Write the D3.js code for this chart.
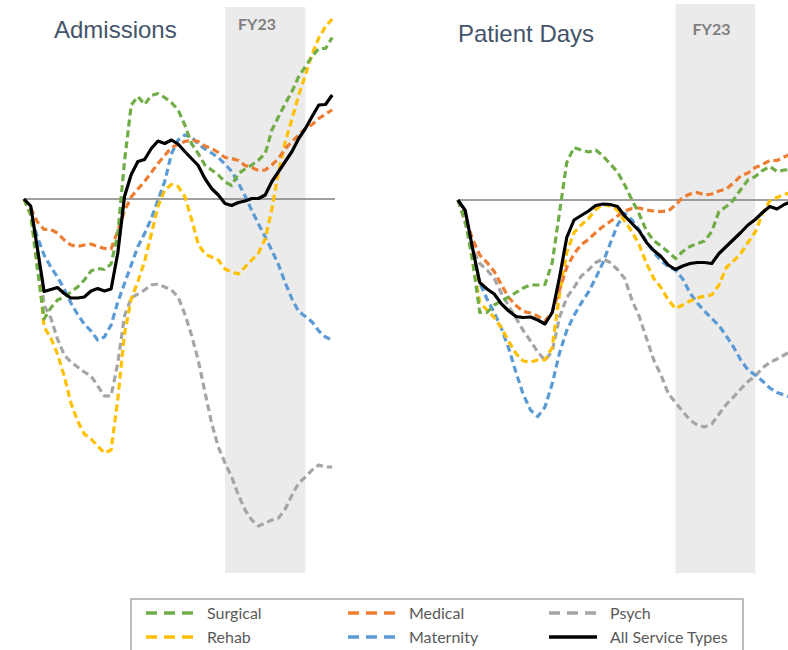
<!DOCTYPE html>
<meta charset="utf-8">
<style>
body { margin: 0; background: #fff; }
svg { display: block; }
.title { font: 24px "Liberation Sans", Arial, sans-serif; fill: #44546a; }
.fy { font: bold 16px Lato, sans-serif; fill: #7f7f7f; }
.legend text { font: 16px Lato, sans-serif; fill: #595959; }
</style>
<body>
<script src="https://cdn.jsdelivr.net/npm/d3@7"></script>
<script>

// monthly % change vs baseline, Jan 2020 .. Nov 2023 (index 0..46)
const admSurgical = [0,-3,-14,-24,-21.8,-20.2,-19.6,-18.6,-17.6,-16.2,-14.4,-13.9,-14.1,-13,-7,7.5,18.8,20.5,18.9,20.7,21.1,20.3,19.3,17.8,14.8,11.1,9.1,6.8,5.8,4.8,3.4,2.7,5.1,6,6.8,7.8,9.1,13.8,16.5,19.1,21.5,24.5,26.5,28.5,30.1,30.1,32.3];
const admMedical = [0,-1.8,-4.6,-6.1,-6.1,-6.8,-8.2,-9.2,-9.5,-9.2,-9,-9.5,-9.9,-10,-6.4,-2.4,0.4,2,3.5,5.3,7.1,8.7,10.3,10.9,11.5,11.8,11.5,10.6,10.1,9.3,8.3,8.1,7.7,6.7,6.3,5.7,5.8,6.8,8.1,10.1,11.5,12.8,14.1,14.9,16.1,17,17.8];
const admPsych = [0,-2,-10,-21.2,-23.8,-28,-31.2,-32.6,-33.6,-34.6,-35.4,-37.4,-39.4,-39.4,-32.8,-23.4,-19.8,-19,-18.2,-17.2,-17,-17.6,-18.2,-19.6,-23,-27.2,-32.2,-38.6,-44.8,-49.6,-52.8,-55.6,-59.2,-62.2,-64.2,-65.4,-64.8,-64.2,-63.8,-62,-59.2,-56.8,-55.6,-54.2,-53.2,-53.6,-53.6];
const admRehab = [0,-3.2,-11.8,-25.6,-27.8,-31,-35.4,-40.8,-44.4,-47,-48,-49.4,-50.8,-50.2,-40,-27,-20,-16.5,-12.5,-7,-1.5,1.8,2.9,2.5,0.5,-4,-9,-11,-11.6,-12.2,-14,-14.6,-15,-13.6,-12.2,-10.8,-8,-2,5.5,11.5,16,20.8,24.8,29,32.2,34.5,36];
const admMaternity = [0,-3.2,-7.6,-11.2,-13.6,-15.6,-18,-20.8,-23.1,-25,-26.4,-28.2,-27.6,-25.2,-20.6,-16.9,-13.2,-9.5,-6.9,-3.9,-0.2,3.5,9,11.8,12.8,12.4,11,10,9.2,8.3,7,5.5,3.2,0.6,-2.3,-5,-7.6,-10.3,-13.2,-16.8,-20,-22.5,-23.5,-24.6,-26.4,-27.6,-28.2];
const admAll = [0,-1.4,-9.9,-18.5,-18.1,-17.7,-18.9,-19.8,-19.8,-19.6,-18.4,-17.9,-18.4,-18,-10.8,0.5,4.9,7.5,7.9,10.1,11.6,11.1,11.8,11,9.5,8.1,6.7,4.1,2.1,0.8,-0.9,-1.3,-0.7,-0.4,0.1,0.1,0.8,3.5,5.5,7.5,9.5,12.1,14.1,16.5,18.8,18.9,20.8];

const pdSurgical = [0,-4,-12,-22.5,-22.5,-21,-20.2,-19.4,-18.5,-17.6,-17,-17,-16.9,-12.5,-2.5,7.5,10.5,10,9.6,10,8.8,7.2,5.6,3,0,-2.8,-6.2,-8.1,-9.2,-10.4,-11.7,-10.3,-9.3,-8.7,-8.2,-6.3,-2.3,-1.3,0,2.1,4,4.7,5.9,6.7,5.7,6,6.1];
const pdMedical = [0,-3.5,-7.8,-11,-12.5,-14.3,-17,-19.5,-21.1,-22.3,-22.6,-23.2,-24.2,-22.4,-18,-13.5,-10.8,-8.9,-7.9,-6.5,-5.3,-4.3,-3.2,-2.2,-1.7,-1.6,-2,-2.2,-2.3,-2.2,-1,0.5,1.2,1.5,1,1.2,1.8,2.2,3.4,4.8,5.4,6.5,7.1,7.9,7.9,8.6,9.3];
const pdPsych = [0,-4.7,-9.7,-12.7,-14,-15.7,-18.7,-21.2,-23.6,-26.1,-28.2,-30.4,-32.1,-30.2,-23.5,-19.5,-17.5,-15.2,-14,-12.5,-11.8,-12.5,-13.9,-15.7,-20,-23.3,-27.7,-32,-35,-38.7,-40.5,-42.3,-44,-45,-45.4,-44.8,-42.8,-40.9,-39.4,-37.8,-36.3,-35.2,-33.6,-32.5,-31.8,-31,-30.2];
const pdRehab = [0,-3.5,-12,-20.5,-22,-23.5,-25.6,-28.3,-30.7,-32.2,-32.4,-32,-32,-29.5,-18.8,-10.5,-6.5,-5,-3.7,-1.9,-0.9,-1.2,-2,-4.3,-6.3,-9,-12.7,-15.7,-17.5,-20,-21.7,-21,-20.2,-19.6,-19.2,-19,-17,-13.5,-12.2,-10.7,-8.5,-6.4,-2.7,-0.2,0.5,1.1,1.5];
const pdMaternity = [0,-3.7,-11.7,-16.6,-19.8,-22.5,-25.7,-29.7,-34.5,-38.9,-42,-43.3,-41.4,-36.7,-30.6,-26.1,-23.1,-20.6,-18.4,-15.6,-12.5,-8.7,-5,-2.7,-4,-6,-8.3,-10.5,-12.1,-13.3,-14,-15.8,-18.6,-20.6,-22.2,-23.7,-25.1,-27.2,-29.4,-32,-34,-35,-36.2,-37.6,-38.5,-39,-39.5];
const pdAll = [0,-2.1,-9.6,-16.5,-17.8,-18.8,-20.8,-22.2,-23.3,-23.5,-23.4,-24,-24.8,-22.5,-15.5,-7.5,-4,-3.1,-2.2,-1.1,-0.8,-0.9,-1.3,-3.2,-4.7,-6.2,-8.5,-10.1,-11.3,-13,-13.9,-13.2,-12.7,-12.5,-12.5,-12.7,-10.7,-9.3,-7.9,-6.5,-5,-3.9,-2.5,-1.3,-1.8,-0.9,-0.3];

// FY23 band as [first index, last index] on each panel
const fy23Adm = [30, 42];
const fy23Pd = [30, 41];

const seriesNames = ["Psych", "Maternity", "Rehab", "Medical", "Surgical", "All Service Types"];
const legendOrder = ["Surgical", "Medical", "Psych", "Rehab", "Maternity", "All Service Types"];

var color = d3.scaleOrdinal()
    .domain(["Surgical", "Medical", "Psych", "Rehab", "Maternity", "All Service Types"])
    .range(["#70ad47", "#ed7d31", "#a5a5a5", "#ffc000", "#5b9bd5", "#000000"]);

var width = 788, height = 650;

var svg = d3.select("body").append("svg")
    .attr("width", width)
    .attr("height", height);

var panels = [
  { title: "Admissions", fy: fy23Adm, left: 24, right: 332.2, zeroY: 199, zeroEnd: 335,
    titleX: 54, titleY: 38, bandTop: 7, fyLabelY: 29.5, fyOffset: 13,
    values: { "Surgical": admSurgical, "Medical": admMedical, "Psych": admPsych,
              "Rehab": admRehab, "Maternity": admMaternity, "All Service Types": admAll } },
  { title: "Patient Days", fy: fy23Pd, left: 458, right: 791.5, zeroY: 200, zeroEnd: 788,
    titleX: 458, titleY: 42, bandTop: 4, fyLabelY: 34.5, fyOffset: 17,
    values: { "Surgical": pdSurgical, "Medical": pdMedical, "Psych": pdPsych,
              "Rehab": pdRehab, "Maternity": pdMaternity, "All Service Types": pdAll } }
];

panels.forEach(function(p) {
  var x = d3.scaleLinear().domain([0, 46]).range([p.left, p.right]);
  var y = d3.scaleLinear().domain([-75, 40]).range([p.zeroY + 375, p.zeroY - 200]);

  var g = svg.append("g");

  // FY23 band
  g.append("rect")
      .attr("x", x(p.fy[0]))
      .attr("y", p.bandTop)
      .attr("width", x(p.fy[1]) - x(p.fy[0]))
      .attr("height", 573 - p.bandTop)
      .style("fill", "#ebebeb");

  g.append("text")
      .attr("class", "fy")
      .attr("x", x(p.fy[0]) + p.fyOffset)
      .attr("y", p.fyLabelY)
      .text("FY23");

  g.append("text")
      .attr("class", "title")
      .attr("x", p.titleX)
      .attr("y", p.titleY)
      .text(p.title);

  // zero baseline
  g.append("line")
      .attr("x1", p.left)
      .attr("x2", p.zeroEnd)
      .attr("y1", y(0))
      .attr("y2", y(0))
      .style("stroke", "#808080")
      .style("stroke-width", 1.5);

  var line = d3.line()
      .x(function(d, i) { return x(i); })
      .y(function(d) { return y(d); });

  g.selectAll(".series")
      .data(seriesNames)
      .enter().append("path")
      .attr("class", "series")
      .attr("d", function(name) { return line(p.values[name]); })
      .style("fill", "none")
      .style("stroke", function(name) { return color(name); })
      .style("stroke-width", 3.2)
      .style("stroke-linejoin", "round")
      .style("stroke-dasharray", function(name) { return name === "All Service Types" ? null : "7,4"; });
});

// legend
svg.append("rect")
    .attr("x", 131)
    .attr("y", 599)
    .attr("width", 612)
    .attr("height", 60)
    .style("fill", "#fff")
    .style("stroke", "#a6a6a6")
    .style("stroke-width", 1.5);

var legendCols = [146, 348, 549];
var legendRows = [613, 637];

var legend = svg.selectAll(".legend")
    .data(legendOrder)
  .enter().append("g")
    .attr("class", "legend")
    .attr("transform", function(d, i) {
      return "translate(" + legendCols[i % 3] + "," + legendRows[Math.floor(i / 3)] + ")";
    });

legend.append("line")
    .attr("x1", 0)
    .attr("x2", 48)
    .attr("y1", 0)
    .attr("y2", 0)
    .style("stroke", function(d) { return color(d); })
    .style("stroke-width", 3.5)
    .style("stroke-dasharray", function(d) { return d === "All Service Types" ? null : "11,7"; });

legend.append("text")
    .attr("x", 61)
    .attr("y", 0)
    .attr("dy", "0.35em")
    .text(function(d) { return d; });

</script>
</body>
